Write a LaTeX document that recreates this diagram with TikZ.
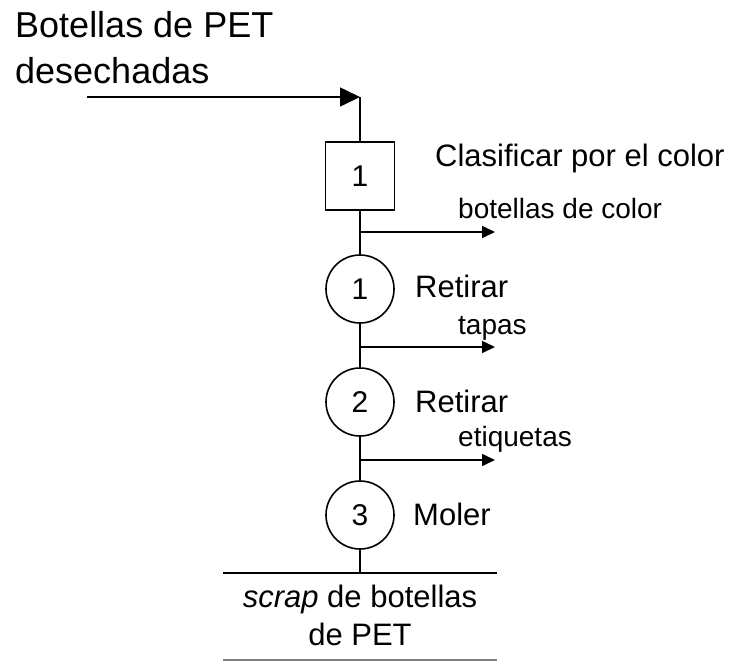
\documentclass[tikz,border=0pt]{standalone}
\usepackage{fontspec}
\setmainfont{Liberation Sans}
\usetikzlibrary{arrows.meta}

\tikzset{
	flow/.style={line width=1.6pt},
	outflow/.style={flow, -{Triangle[length=13pt,width=12pt]}},
	inflow/.style={flow, -{Triangle[length=20pt,width=19pt]}},
	opcirc/.style={draw, flow, circle, minimum size=68pt, inner sep=0pt, font=\fontsize{30}{36}\selectfont},
	inspbox/.style={draw, flow, rectangle, minimum width=69pt, minimum height=68pt, inner sep=0pt, font=\fontsize{30}{36}\selectfont},
	biglbl/.style={anchor=base west, inner sep=0pt, font=\fontsize{31}{38}\selectfont},
	smalllbl/.style={anchor=base west, inner sep=0pt, font=\fontsize{28}{34}\selectfont},
}

\begin{document}
\begin{tikzpicture}[x=1pt,y=1pt]
	\useasboundingbox (0,0) rectangle (737,-662);

	\node[anchor=base west, inner sep=0pt, align=left, font=\fontsize{36}{46}\selectfont] (title) at (15,-83) {Botellas de PET\\desechadas};
	\coordinate (start) at (87,-97);
	\coordinate (top) at (360,-97);
	\draw[inflow] (start) -- (top);

	\node[inspbox] (insp) at (360,-176) {1};
	\node[biglbl] (lclas) at (435,-166) {Clasificar por el color};
	\node[opcirc] (op1) at (360,-289) {1};
	\node[biglbl] (lret1) at (415,-297) {Retirar};
	\node[opcirc] (op2) at (360,-402) {2};
	\node[biglbl] (lret2) at (415,-412) {Retirar};
	\node[opcirc] (op3) at (360,-515) {3};
	\node[biglbl] (lmol) at (413,-525) {Moler};

	\coordinate (j1) at (360,-232);
	\coordinate (e1) at (495,-232);
	\coordinate (j2) at (360,-347);
	\coordinate (e2) at (495,-347);
	\coordinate (j3) at (360,-460);
	\coordinate (e3) at (495,-460);
	\node[smalllbl] (lcolor) at (458,-218) {botellas de color};
	\node[smalllbl] (ltapas) at (458,-334) {tapas};
	\node[smalllbl] (letiq) at (458,-446) {etiquetas};

	\draw[flow] (top) -- (insp.north);
	\draw[flow] (insp.south) -- (op1.north);
	\draw[flow] (op1.south) -- (op2.north);
	\draw[flow] (op2.south) -- (op3.north);
	\draw[outflow] (j1) -- (e1);
	\draw[outflow] (j2) -- (e2);
	\draw[outflow] (j3) -- (e3);

	\coordinate (endl) at (223,-573);
	\coordinate (endr) at (497,-573);
	\coordinate (bot) at (360,-573);
	\draw[flow] (op3.south) -- (bot);
	\draw[flow] (endl) -- (endr);
	\node[anchor=base, inner sep=0pt, align=center, font=\fontsize{31}{38}\selectfont] (prod) at (360,-645) {\textit{scrap} de botellas\\de PET};
	\coordinate (basel) at (223,-660);
	\coordinate (baser) at (497,-660);
	\draw[flow, gray] (basel) -- (baser);
\end{tikzpicture}
\end{document}
